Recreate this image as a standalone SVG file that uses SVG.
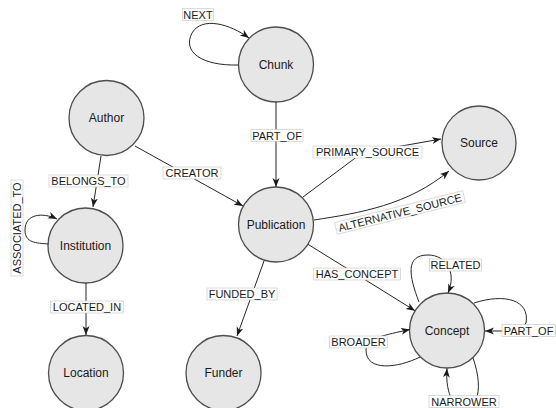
<svg xmlns="http://www.w3.org/2000/svg" width="556" height="408" viewBox="0 0 556 408">
<defs>
<marker id="arr" markerUnits="userSpaceOnUse" markerWidth="10" markerHeight="8" refX="9" refY="3.5" orient="auto">
<path d="M0,0 L9,3.5 L0,7 L2.5,3.5 z" fill="#1a1a1a"/>
</marker>
<style>
.node circle{fill:#e6e6e6;stroke:#4d4d4d;stroke-width:1.3}
.node text{font-family:"Liberation Sans",Arial,sans-serif;font-size:12px;fill:#1a1a1a;text-anchor:middle}
.edge{fill:none;stroke:#262626;stroke-width:1;marker-end:url(#arr)}
.lbl rect{fill:#fff;stroke:#c4c4c4;stroke-width:0.6}
.lbl text{font-family:"Liberation Sans",Arial,sans-serif;font-size:11px;fill:#1a1a1a;text-anchor:middle}
</style>
</defs>
<rect width="556" height="408" fill="#fff"/>
<g id="chunk" class="node"><circle cx="276" cy="64.5" r="37.5"/><text x="276" y="68.8">Chunk</text></g>
<g id="author" class="node"><circle cx="106.5" cy="118" r="37.5"/><text x="106.5" y="122.3">Author</text></g>
<g id="institution" class="node"><circle cx="85.5" cy="245.5" r="37.5"/><text x="85.5" y="249.8">Institution</text></g>
<g id="publication" class="node"><circle cx="276" cy="224.5" r="37.5"/><text x="276" y="228.8">Publication</text></g>
<g id="source" class="node"><circle cx="479" cy="143" r="37"/><text x="479" y="147.3">Source</text></g>
<g id="location" class="node"><circle cx="86" cy="373" r="37.5"/><text x="86" y="377.3">Location</text></g>
<g id="funder" class="node"><circle cx="223.5" cy="373" r="37.5"/><text x="223.5" y="377.3">Funder</text></g>
<g id="concept" class="node"><circle cx="447" cy="330.5" r="37.5"/><text x="447" y="334.8">Concept</text></g>
<g id="connectors">
<path class="edge" d="M276,102 L276,187"/>
<path class="edge" d="M238.5,65 C202,66 182,52 192,33 C202,16 230,24 249,38"/>
<path class="edge" d="M101,156 L93,207"/>
<path class="edge" d="M135,146 L243,206"/>
<path class="edge" d="M48.5,244 C36,243 25,243 25,230 C25,214 42,212 57,219"/>
<path class="edge" d="M86,283 L86,335"/>
<path class="edge" d="M264,261 L237,336"/>
<path class="edge" d="M303,197 L362,153 L441,139"/>
<path class="edge" d="M314,220 C360,213 408,205 449,171"/>
<path class="edge" d="M308,244.3 L415,310.7"/>
<path class="edge" d="M419,302 C409,276 405,255 428,255 C446,255 457,272 448,293"/>
<path class="edge" d="M474,303 C505,293 530,300 526,323 Q522,331 508,331 L485,331"/>
<path class="edge" d="M420,357 C398,368 366,372 366,350 C366,338 385,335 410,329.5"/>
<path class="edge" d="M473,358 C479,375 480,390 476,400 L452,400 C448,392 446,382 447,368.5"/>
<g class="lbl"><rect x="251" y="129.5" width="52" height="12"/><text x="277" y="139.5">PART_OF</text></g>
<g class="lbl"><rect x="182.5" y="8.5" width="31" height="12"/><text x="198" y="18.5">NEXT</text></g>
<g class="lbl"><rect x="49" y="175" width="79" height="12"/><text x="88.5" y="185">BELONGS_TO</text></g>
<g class="lbl"><rect x="163" y="167" width="58" height="12"/><text x="192" y="177">CREATOR</text></g>
<g class="lbl" transform="translate(17,228) rotate(-90)"><rect x="-48" y="-6" width="96" height="12"/><text x="0" y="4">ASSOCIATED_TO</text></g>
<g class="lbl"><rect x="50.5" y="301" width="73" height="12"/><text x="87" y="311">LOCATED_IN</text></g>
<g class="lbl"><rect x="207" y="288" width="70" height="12"/><text x="242" y="298">FUNDED_BY</text></g>
<g class="lbl"><rect x="313" y="146" width="109" height="12"/><text x="367.5" y="156">PRIMARY_SOURCE</text></g>
<g class="lbl" transform="translate(400,212.5) rotate(-14)"><rect x="-66" y="-6" width="132" height="12"/><text x="0" y="4">ALTERNATIVE_SOURCE</text></g>
<g class="lbl"><rect x="313.5" y="268" width="87" height="12"/><text x="357" y="278">HAS_CONCEPT</text></g>
<g class="lbl"><rect x="429.5" y="259" width="52" height="12"/><text x="455.5" y="269">RELATED</text></g>
<g class="lbl"><rect x="502" y="324.5" width="53.5" height="12"/><text x="528.5" y="334.5">PART_OF</text></g>
<g class="lbl"><rect x="329.5" y="336" width="58" height="12"/><text x="358.5" y="346">BROADER</text></g>
<g class="lbl"><rect x="429" y="395.5" width="70" height="12"/><text x="464" y="405.5">NARROWER</text></g>
</g>
</svg>
